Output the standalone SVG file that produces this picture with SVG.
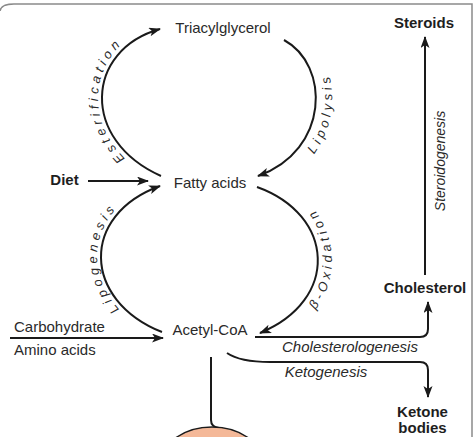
<svg xmlns="http://www.w3.org/2000/svg" width="474" height="437" viewBox="0 0 474 437">
<defs>
<style>
.t{font-family:"Liberation Sans",Arial,sans-serif;font-size:15px;fill:#2a2a2a}
.b{font-weight:bold;fill:#1e1e1e}
.i{font-style:italic}
.arc{font-family:"Liberation Sans",Arial,sans-serif;font-size:13px;font-style:italic;fill:#2a2a2a;letter-spacing:4px}
.ln{fill:none;stroke:#1a1a1a;stroke-width:2}
</style>
<marker id="ah" markerWidth="13" markerHeight="10" refX="11" refY="4.5" orient="auto" markerUnits="userSpaceOnUse">
<path d="M0,0 L12,4.5 L0,9 L3,4.5 z" fill="#1a1a1a"/>
</marker>
<path id="pE" d="M160 181 C75 145 80 45 160 24"/>
<path id="pL" d="M264 190 C350 160 350 55 290 26"/>
<path id="pG" d="M161 337 C77 303 75 211 160 181"/>
<path id="pB" d="M266 347 C357 310 352 205 262 172"/>
</defs>
<rect width="474" height="437" fill="#ffffff"/>
<path d="M0 11 Q1 4 14 4 H472 V437" fill="none" stroke="#8a8a8a" stroke-width="1.5"/>

<g id="connectors">
<path class="ln" d="M161 176 C80 140 85 50 160 29" marker-end="url(#ah)"/>
<path class="ln" d="M284 40 C330 65 330 150 258 176" marker-end="url(#ah)"/>
<path class="ln" d="M162 332 C82 300 80 215 160 186" marker-end="url(#ah)"/>
<path class="ln" d="M257 187 C335 215 340 300 260 333" marker-end="url(#ah)"/>
<path class="ln" d="M88 181 H148" marker-end="url(#ah)"/>
<path class="ln" d="M10 338 H163" marker-end="url(#ah)"/>
<path class="ln" d="M425 275 V37" marker-end="url(#ah)"/>
<path class="ln" d="M255 337 H420 Q428 337 428 329 V302" marker-end="url(#ah)"/>
<path class="ln" d="M227 353 Q240 362 270 362 H420 Q428 362 428 370 V397" marker-end="url(#ah)"/>
<path class="ln" d="M211 357 V420 Q211 427 219 428"/>
</g>

<g id="label-esterification"><text class="arc"><textPath href="#pE" startOffset="50%" text-anchor="middle">Esterification</textPath></text></g>
<g id="label-lipolysis"><text class="arc"><textPath href="#pL" startOffset="50%" text-anchor="middle">Lipolysis</textPath></text></g>
<g id="label-lipogenesis"><text class="arc"><textPath href="#pG" startOffset="50%" text-anchor="middle">Lipogenesis</textPath></text></g>
<g id="label-boxidation"><text class="arc"><textPath href="#pB" startOffset="50%" text-anchor="middle">β-Oxidation</textPath></text></g>

<g id="triacylglycerol"><text class="t" x="223" y="33" text-anchor="middle">Triacylglycerol</text></g>
<g id="fatty-acids"><text class="t" x="210" y="188" text-anchor="middle">Fatty acids</text></g>
<g id="acetyl-coa"><text class="t" x="210" y="335" text-anchor="middle">Acetyl-CoA</text></g>
<g id="diet"><text class="t b" x="64.5" y="185" text-anchor="middle">Diet</text></g>
<g id="carbohydrate"><text class="t" x="14" y="332">Carbohydrate</text></g>
<g id="amino-acids"><text class="t" x="14" y="355">Amino acids</text></g>
<g id="steroids"><text class="t b" x="424" y="28" text-anchor="middle">Steroids</text></g>
<g id="steroidogenesis"><text class="t i" style="font-size:14px" transform="translate(445 161) rotate(-90)" text-anchor="middle">Steroidogenesis</text></g>
<g id="cholesterol"><text class="t b" x="425" y="293" text-anchor="middle">Cholesterol</text></g>
<g id="cholesterologenesis"><text class="t i" x="350" y="352" text-anchor="middle">Cholesterologenesis</text></g>
<g id="ketogenesis"><text class="t i" x="326" y="377" text-anchor="middle">Ketogenesis</text></g>
<g id="ketone-bodies"><text class="t b" x="422.5" y="417" text-anchor="middle">Ketone</text><text class="t b" x="422.5" y="433" text-anchor="middle">bodies</text></g>
<g id="cell"><ellipse cx="212" cy="467" rx="53" ry="40" fill="#f4b898" stroke="#1a1a1a" stroke-width="1.5"/></g>
</svg>
